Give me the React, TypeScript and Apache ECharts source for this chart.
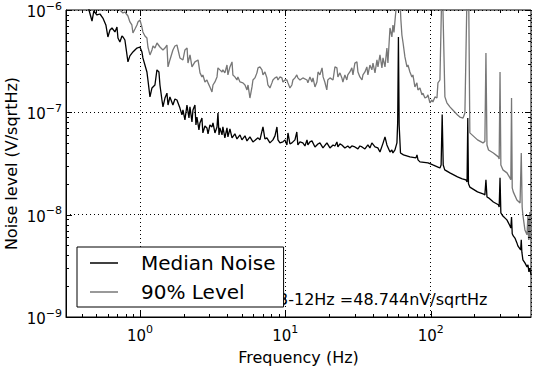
import React, { useEffect, useRef } from 'react';
import * as echarts from 'echarts';

// Median noise (frequency in Hz, amplitude in nV/sqrtHz)
const medianFreq = [0.31,0.34,0.375,0.41,0.44,0.446,0.468,0.482,0.506,0.531,0.556,0.583,0.602,0.622,0.642,0.673,0.695,0.706,0.728,0.752,0.764,0.788,0.827,0.853,0.895,0.954,1.0,1.032,1.048,1.082,1.117,1.135,1.172,1.21,1.268,1.309,1.351,1.373,1.417,1.44,1.486,1.534,1.56,1.608,1.686,1.741,1.797,1.884,1.945,1.976,2.04,2.106,2.174,2.208,2.28,2.316,2.39,2.428,2.467,2.546,2.587,2.67,2.71,2.8,2.89,2.94,3.03,3.13,3.18,3.28,3.39,3.44,3.5,3.55,3.67,3.72,3.84,3.97,4.03,4.16,4.3,4.5,4.65,4.88,5.03,5.28,5.45,5.71,5.99,6.49,6.69,7.02,7.24,7.47,7.84,8.22,8.49,8.76,8.9,9.19,9.63,9.94,10.26,10.43,10.76,11.1,11.65,12.0,12.2,12.61,13.2,13.65,14.1,14.3,14.77,15.25,16.0,16.77,17.3,18.16,19.33,20.28,21.3,21.95,22.65,23.0,23.76,24.5,25.7,26.9,27.8,28.7,30.1,31.6,32.6,33.7,35.3,37.0,38.2,39.4,41.4,43.3,44.8,47.1,48.5,50.0,52.5,54.1,55.0,56.8,58.6,59.3,60,60.7,62,65,72,79.2,80.5,81.8,84.4,95.9,103.6,112.2,115.8,118,120,122,125,135.6,153,165,174.8,178,180,182,186,210,229,236,240,244,250,270,292,296,300,304,314,334.5,350.8,356,360,364,370,380,392,398,416,420,424,431,445,460,467,474,481,490];
const medianNV = [1500,1400,1340,1440,1200,1000,780,978,894,914,835,714,545,638,667,610,682,532,487,557,545,509,311,356,389,425,435,389,340,290,248,207,141.5,173,185,260,248,185,132,113,138,154,118,141.5,118,135,132,110,94.3,105.5,84.3,118,88,113,80.6,105.5,118,75.3,90,67.3,78.8,88.1,62.9,73.6,70.4,61.6,75.3,72,78.8,62.9,72,98.6,60.2,70.4,60.2,72,56.3,70.4,57.6,68.8,56.3,61.6,55,60.2,53.8,58.9,52.6,57.6,51.4,56.3,53.8,72,55,56.3,50.3,53.8,58.9,72,53.8,50.3,51.4,53.8,48,62.9,49.1,50.3,53.8,64.3,48,51.4,50.3,46.9,53.8,48,51.4,52.6,45.9,49.1,50.3,44.9,50.3,44.9,48,46.9,51.4,45.9,49.1,48,44.9,46.9,44.9,46.9,45.9,43.9,46.9,45.9,43.9,48,44.9,50.3,45.9,44.9,41,50.3,57.6,48,41,42.9,40.1,42.9,50.3,80,545,75,40.1,38.4,36.7,35.9,38.4,34.3,32.8,32.1,30.6,29.2,28.6,30.6,95,30.6,27.4,25.6,23.4,22.4,21.9,20.9,88,20,18.6,16.7,16,15.6,21.9,14.9,14.6,13.3,12.5,11.9,22.9,10.4,9.7,8.9,7.8,7.4,9.5,6.5,6.2,5.9,5.3,4.96,4.53,5.67,4.3,3.62,3.38,3.09,3.23,2.76,3.0,2.58];

// 90% level (frequency in Hz, amplitude in nV/sqrtHz)
const level90Freq = [0.31,0.453,0.622,0.695,0.728,0.764,0.788,0.827,0.853,0.88,0.895,0.924,0.954,0.969,1.0,1.032,1.048,1.082,1.117,1.135,1.172,1.21,1.23,1.268,1.31,1.373,1.44,1.486,1.534,1.56,1.608,1.686,1.741,1.797,1.884,1.976,2.04,2.11,2.14,2.21,2.28,2.39,2.51,2.59,2.67,2.71,2.8,2.89,2.94,3.03,3.13,3.18,3.28,3.39,3.44,3.55,3.67,3.72,3.84,3.97,4.03,4.16,4.3,4.36,4.5,4.65,4.72,4.88,5.11,5.28,5.45,5.54,5.71,5.9,5.99,6.18,6.38,6.49,6.69,6.91,7.02,7.24,7.47,7.59,7.84,8.09,8.22,8.49,8.76,8.9,9.19,9.48,9.63,9.94,10.26,10.43,10.76,11.1,11.28,11.65,12.0,12.2,12.61,13.2,14.1,14.3,14.77,15.25,15.5,16.0,16.5,16.8,17.3,17.9,18.2,18.7,19.3,19.6,20.3,21.3,21.95,22.65,23.0,23.76,24.5,24.9,25.7,26.5,26.9,27.8,28.7,29.2,30.1,31.1,31.6,32.6,33.7,34.2,35.3,36.4,37.0,38.2,39.4,40.1,41.4,42.7,43.4,44.8,46.2,47.0,48.5,50.0,50.8,52.5,54.1,55.0,55.9,57.7,58.6,60,61,62.4,63.4,64.6,66.5,68.7,69.8,72,74.3,75.5,77.9,80.4,81.7,84.4,87.1,88.5,91.3,94.3,95.8,98.8,102,103.6,107,110.5,112.2,115.8,118.5,120,121.5,125.3,129.3,135.6,142,153,158.9,167,172,177,180,183,186,210,229,236,240,244,250,270,292,296,300,304,314,335,351,356,360,364,370,392,412,420,426,431,445,460,467,472,474,478,481,485,490];
const level90NV = [3080,2460,1750,1250,1000,935,956,874,764,714,596,652,714,764,798,682,610,557,532,435,364,407,445,425,476,435,407,425,455,278,325,407,445,455,340,325,407,425,303,364,278,311,325,243,222,232,198,207,194,177,158,185,198,222,272,260,248,260,243,290,232,278,311,232,222,207,222,198,194,185,165.5,185,138,177,207,217,243,272,278,260,232,248,217,185,173,194,207,217,222,207,222,217,198,207,207,194,173,185,207,217,232,217,207,217,207,194,222,198,217,177,198,248,232,272,222,198,165.5,207,217,207,278,272,222,243,217,198,232,207,232,248,272,232,303,311,248,222,207,232,248,278,232,290,260,303,243,325,278,364,272,340,278,425,303,667,545,714,604,1000,1560,4000,1560,798,570,476,348,278,290,248,222,232,177,194,165.5,173,148,154,138,141.5,148,124,132,126,141.5,138,194,207,1000,4800,1000,141.5,124,113,105.5,94.3,90,88,98.6,1000,4800,1000,63,53.8,50.3,52,380,48,42.9,40.1,36.7,35,248,30.6,27.4,25.6,22.9,22,138,18.3,16.7,13.9,13.0,40.1,11.9,9.9,7.1,6.35,9.9,5.67,9.2,5.9,10.6,5.67,7.95];

const seriesNames = ['Median Noise', '90% Level'];
const xMajorTicks = [1, 10, 100];
const yMajorTicks = [1e-9, 1e-8, 1e-7, 1e-6];
const minorSteps = [2, 3, 4, 5, 6, 7, 8, 9];
const annotation = '3-12Hz =48.744nV/sqrtHz';

const X_MIN = 0.31;
const X_MAX = 490;
const Y_MIN = 1e-9;
const Y_MAX = 1e-6;
const FONT = 'DejaVu Sans';

function powLabel(v: number): string {
  const e = Math.log10(v);
  const r = Math.round(e);
  if (Math.abs(e - r) > 1e-6) return '';
  const exp = r < 0 ? '\u2212' + -r : String(r);
  return `{b|10}{s|${exp}}`;
}

const richLabel = {
  b: { fontSize: 15, fontFamily: FONT, color: '#000', lineHeight: 15, verticalAlign: 'bottom' },
  s: { fontSize: 11, fontFamily: FONT, color: '#000', verticalAlign: 'top', padding: [0, 0, 8, 0] },
};

export default function App() {
  const ref = useRef<HTMLDivElement>(null);
  useEffect(() => {
    if (!ref.current) return;
    const chart = echarts.init(ref.current, null, { renderer: 'svg' });

    const tickData: number[][] = [];
    xMajorTicks.forEach((v) => tickData.push([v, Y_MIN, 0, 6]));
    [-1, 0, 1, 2].forEach((k) =>
      minorSteps.forEach((m) => {
        const v = m * Math.pow(10, k);
        if (v > X_MIN && v < X_MAX) tickData.push([v, Y_MIN, 0, 3]);
      })
    );
    yMajorTicks.forEach((v) => tickData.push([X_MIN, v, 1, 6]));
    [-9, -8, -7].forEach((k) =>
      minorSteps.forEach((m) => tickData.push([X_MIN, m * Math.pow(10, k), 1, 3]))
    );

    const median = medianFreq.map((f, i) => [f, medianNV[i] * 1e-9]);
    const level90 = level90Freq.map((f, i) => [f, level90NV[i] * 1e-9]);

    const option: any = {
      animation: false,
      backgroundColor: '#fff',
      grid: {
        left: 66, right: 2, top: 10, bottom: 52,
        outerBoundsMode: 'none', containLabel: false,
        show: true, borderColor: '#000', borderWidth: 1, backgroundColor: 'transparent',
      },
      xAxis: {
        type: 'log', logBase: 10, min: X_MIN, max: X_MAX,
        name: 'Frequency (Hz)', nameLocation: 'middle', nameGap: 32, nameMoveOverlap: false,
        nameTextStyle: { fontSize: 16, fontFamily: FONT, color: '#000' },
        axisLine: { show: true, lineStyle: { color: '#000', width: 1 } },
        axisTick: { show: false },
        axisLabel: { margin: 7, formatter: (v: number) => powLabel(v), rich: richLabel, showMinLabel: false, showMaxLabel: false },
        splitLine: { show: true, lineStyle: { color: '#000', width: 1, type: [1, 3] } },
        minorTick: { show: false },
      },
      yAxis: {
        type: 'log', logBase: 10, min: Y_MIN, max: Y_MAX,
        name: 'Noise level (V/sqrtHz)', nameLocation: 'middle', nameGap: 46, nameMoveOverlap: false,
        nameTextStyle: { fontSize: 16, fontFamily: FONT, color: '#000', lineHeight: 17 },
        axisLine: { show: true, lineStyle: { color: '#000', width: 1 } },
        axisTick: { show: false },
        axisLabel: { margin: 4, formatter: (v: number) => powLabel(v), rich: richLabel },
        splitLine: { show: true, lineStyle: { color: '#000', width: 1, type: [1, 3] } },
      },
      legend: {
        orient: 'vertical', left: 77, top: 247, z: 10,
        backgroundColor: '#fff', borderColor: '#000', borderWidth: 1, borderRadius: 0,
        padding: [6, 8, 5, 13],
        itemWidth: 28, itemHeight: 1.5, itemGap: 9,
        textStyle: { fontSize: 20, fontFamily: FONT, color: '#000', lineHeight: 20, padding: [0, 0, 0, 18] },
        data: seriesNames.map((n) => ({ name: n, icon: 'rect' })),
        selectedMode: false,
      },
      graphic: [
        {
          type: 'text', left: 278, top: 291, z: 0,
          style: { text: annotation, fontSize: 16, fontFamily: FONT, fill: '#000' },
        },
      ],
      series: [
        {
          name: seriesNames[0], type: 'line', data: median, symbol: 'none', showSymbol: false,
          lineStyle: { color: '#000', width: 1.3 }, itemStyle: { color: '#000' }, clip: true, z: 2,
        },
        {
          name: seriesNames[1], type: 'line', data: level90, symbol: 'none', showSymbol: false,
          lineStyle: { color: '#777', width: 1.3 }, itemStyle: { color: '#777' }, clip: true, z: 2,
        },
        {
          name: 'ticks', type: 'custom', data: tickData, silent: true, z: 3, clip: false,
          encode: { x: 0, y: 1 },
          renderItem: (_p: any, api: any) => {
            const kind = api.value(2);
            const len = api.value(3);
            const style = { stroke: '#000', lineWidth: 1 };
            if (kind === 0) {
              const b = api.coord([api.value(0), Y_MIN]);
              const t = api.coord([api.value(0), Y_MAX]);
              const x = Math.round(b[0]) + 0.5;
              return {
                type: 'group',
                children: [
                  { type: 'line', shape: { x1: x, y1: b[1], x2: x, y2: b[1] - len }, style },
                  { type: 'line', shape: { x1: x, y1: t[1], x2: x, y2: t[1] + len }, style },
                ],
              };
            }
            const l = api.coord([X_MIN, api.value(1)]);
            const r = api.coord([X_MAX, api.value(1)]);
            const y = Math.round(l[1]) + 0.5;
            return {
              type: 'group',
              children: [
                { type: 'line', shape: { x1: l[0], y1: y, x2: l[0] + len, y2: y }, style },
                { type: 'line', shape: { x1: r[0], y1: y, x2: r[0] - len, y2: y }, style },
              ],
            };
          },
        },
      ],
    };
    chart.setOption(option);
    return () => chart.dispose();
  }, []);
  return (
    <div
      ref={ref}
      style={{ position: 'fixed', left: 0, top: 0, width: 533, height: 369, background: '#fff' }}
    />
  );
}
